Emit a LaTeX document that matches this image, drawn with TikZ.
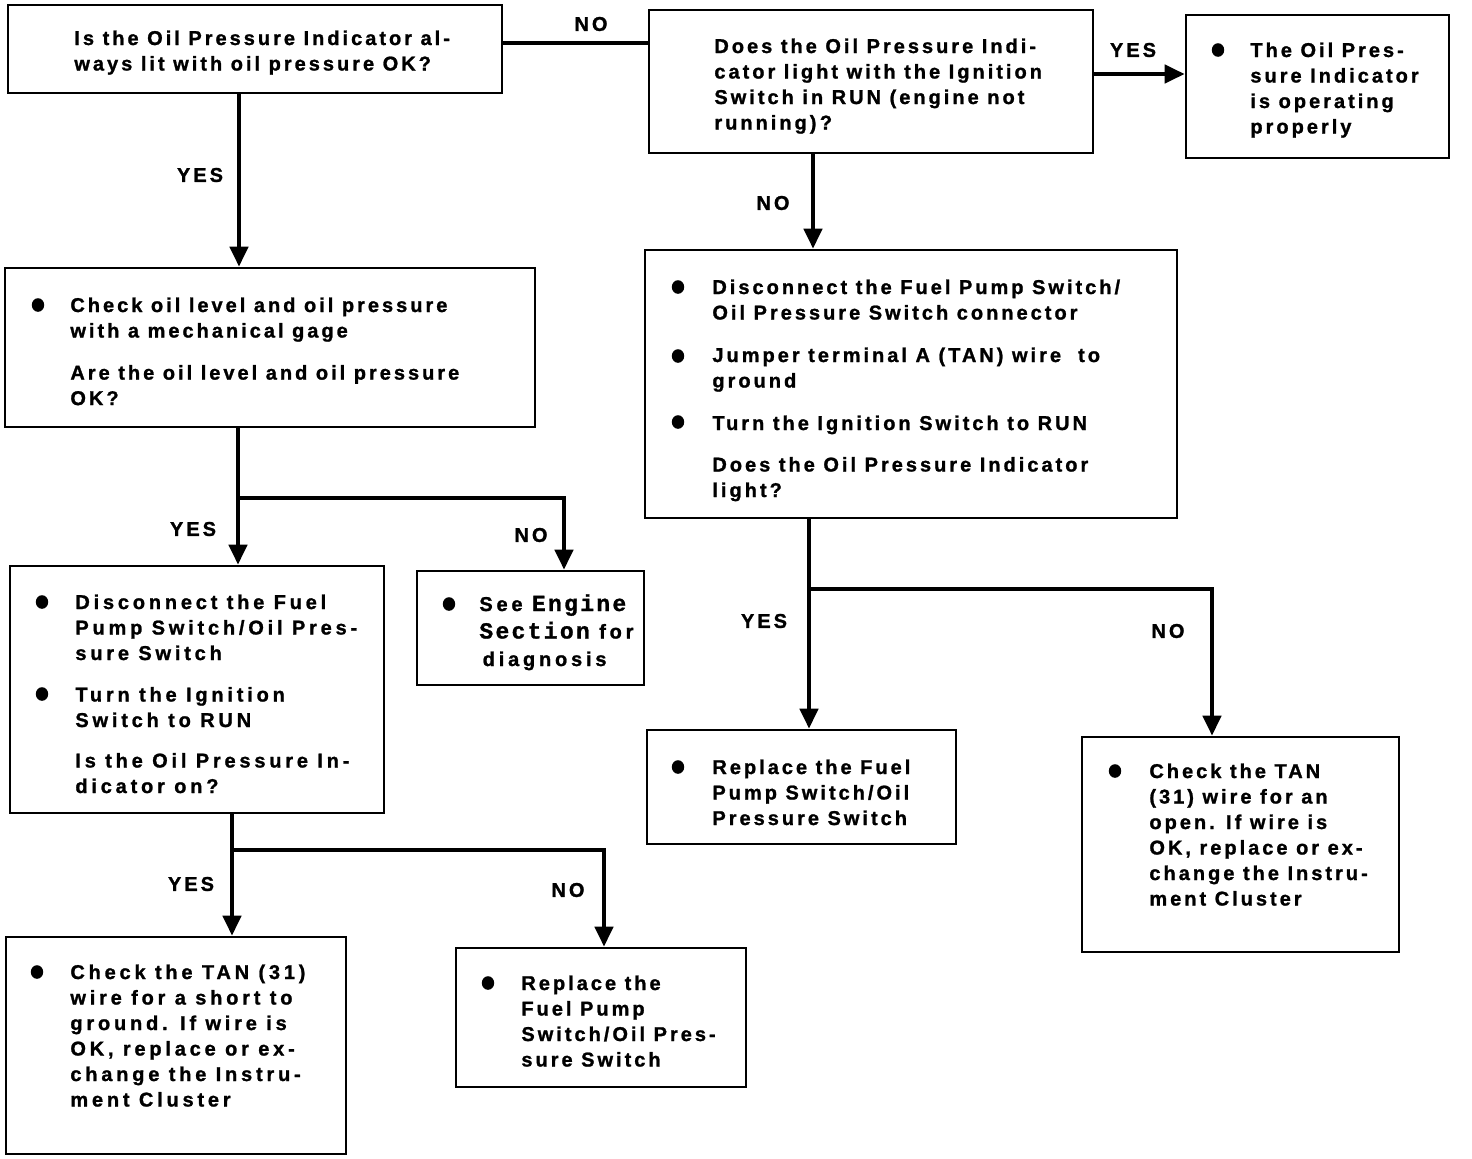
\documentclass[tikz,border=0pt]{standalone}
\usepackage{fontspec}
\setmainfont{Liberation Sans}
\newfontfamily\lab{Liberation Sans}[LetterSpace=15, BoldFeatures={FakeBold=1.2}]
\newfontfamily\labw{Liberation Sans}[LetterSpace=19, BoldFeatures={FakeBold=1.2}]
\newfontfamily\cour{Liberation Mono}[LetterSpace=10, BoldFeatures={FakeBold=1.2}]
\usetikzlibrary{arrows.meta,fit}

\begin{document}
\begin{tikzpicture}[x=0.5pt,y=-0.5pt,
  box/.style={draw, line width=1.3pt, inner sep=0pt},
  txt/.style={inner sep=0pt, anchor=base west, font=\lab\bfseries\fontsize{10}{12.75}\selectfont},
  wtxt/.style={txt, font=\labw\bfseries\fontsize{10}{12.75}\selectfont},
  lbl/.style={inner sep=0pt, font=\lab\bfseries\fontsize{10}{12}\selectfont},
  conn/.style={line width=2.2pt},
  arr/.style={conn, -{Triangle[length=10pt,width=9pt]}},
  dot/.style={fill=black}]
\useasboundingbox (0,0) rectangle (1472,1158);

% boxes
\node[box, fit={(8,5) (502,93)}] (b1) {};
\node[box, fit={(649,10) (1093,153)}] (b2) {};
\node[box, fit={(1186,15) (1449,158)}] (b3) {};
\node[box, fit={(5,268) (535,427)}] (b4) {};
\node[box, fit={(645,250) (1177,518)}] (b5) {};
\node[box, fit={(10,566) (384,813)}] (b6) {};
\node[box, fit={(417,571) (644,685)}] (b7) {};
\node[box, fit={(647,730) (956,844)}] (b8) {};
\node[box, fit={(1082,737) (1399,952)}] (b9) {};
\node[box, fit={(6,937) (346,1154)}] (b10) {};
\node[box, fit={(456,948) (746,1087)}] (b11) {};

% texts
\node[txt] (t1) at (74,45) {\begin{tabular}[t]{@{}l@{}}Is the Oil Pressure Indicator al-\\ways lit with oil pressure OK?\end{tabular}};
\node[txt] (t2) at (714,53) {\begin{tabular}[t]{@{}l@{}}Does the Oil Pressure Indi-\\cator light with the Ignition\\Switch in RUN (engine not\\running)\,?\end{tabular}};
\node[txt] (t3) at (1250,57) {\begin{tabular}[t]{@{}l@{}}The Oil Pres-\\sure Indicator\\is operating\\properly\end{tabular}};
\node[txt] (t4) at (70,312) {\begin{tabular}[t]{@{}l@{}}Check oil level and oil pressure\\with a mechanical gage\\[8.3pt]Are the oil level and oil pressure\\OK?\end{tabular}};
\node[txt] (t5) at (712,294) {\begin{tabular}[t]{@{}l@{}}Disconnect the Fuel Pump Switch/\\Oil Pressure Switch connector\\[8.5pt]Jumper terminal A (TAN) wire\ \ to\\ground\\[8.5pt]Turn the Ignition Switch to RUN\\[8pt]Does the Oil Pressure Indicator\\light?\end{tabular}};
\node[wtxt] (t6) at (75,609) {\begin{tabular}[t]{@{}l@{}}Disconnect the Fuel\\Pump Switch/Oil Pres-\\sure Switch\\[8pt]Turn the Ignition\\Switch to RUN\\[7.5pt]Is the Oil Pressure In-\\dicator on?\end{tabular}};
\node[wtxt] (t7) at (479,611) {\begin{tabular}[t]{@{}l@{}}See {\cour\fontsize{11.5}{12}\selectfont Engine}\\[1pt]{\cour\fontsize{11.5}{12}\selectfont Section} for\\[1pt]\,diagnosis\end{tabular}};
\node[txt] (t8) at (712,774) {\begin{tabular}[t]{@{}l@{}}Replace the Fuel\\Pump Switch/Oil\\Pressure Switch\end{tabular}};
\node[txt] (t9) at (1149,778) {\begin{tabular}[t]{@{}l@{}}Check the TAN\\(31) wire for an\\open. If wire is\\OK, replace or ex-\\change the Instru-\\ment Cluster\end{tabular}};
\node[wtxt] (t10) at (70,979) {\begin{tabular}[t]{@{}l@{}}Check the TAN (31)\\wire for a short to\\ground. If wire is\\OK, replace or ex-\\change the Instru-\\ment Cluster\end{tabular}};
\node[txt] (t11) at (521,990) {\begin{tabular}[t]{@{}l@{}}Replace the\\Fuel Pump\\Switch/Oil Pres-\\sure Switch\end{tabular}};

% bullets
\foreach \p in {(1218,50),(38,305),(678,287),(678,356),(678,422),(42,602),(42,694),(449,604),(678,767),(1115,771),(37,972),(488,983)}
  \fill[dot] \p ellipse (3.1pt and 3.4pt);

% connectors
\draw[conn] (b1.east |- 0,43) -- (b2.west |- 0,43);
\draw[arr] (b1.south -| 239,0) -- (b4.north -| 239,0);
\draw[arr] (b2.east |- 0,74) -- (b3.west |- 0,74);
\draw[arr] (b2.south -| 813,0) -- (b5.north -| 813,0);

\coordinate (j1) at (238,498);
\draw[arr] (b4.south -| 238,0) -- (b6.north -| 238,0);
\draw[arr] (j1) -| (b7.north -| 564,0);

\coordinate (j2) at (809,589);
\draw[arr] (b5.south -| 809,0) -- (b8.north -| 809,0);
\draw[arr] (j2) -| (b9.north -| 1212,0);

\coordinate (j3) at (232,850);
\draw[arr] (b6.south -| 232,0) -- (b10.north -| 232,0);
\draw[arr] (j3) -| (b11.north -| 604,0);

% labels
\node[lbl] (l1) at (591,24) {NO};
\node[lbl] (l2) at (200,175) {YES};
\node[lbl] (l3) at (1133,50) {YES};
\node[lbl] (l4) at (773,203) {NO};
\node[lbl] (l5) at (193,529) {YES};
\node[lbl] (l6) at (531,535) {NO};
\node[lbl] (l7) at (764,621) {YES};
\node[lbl] (l8) at (1168,631) {NO};
\node[lbl] (l9) at (191,884) {YES};
\node[lbl] (l10) at (568,890) {NO};
\end{tikzpicture}
\end{document}
